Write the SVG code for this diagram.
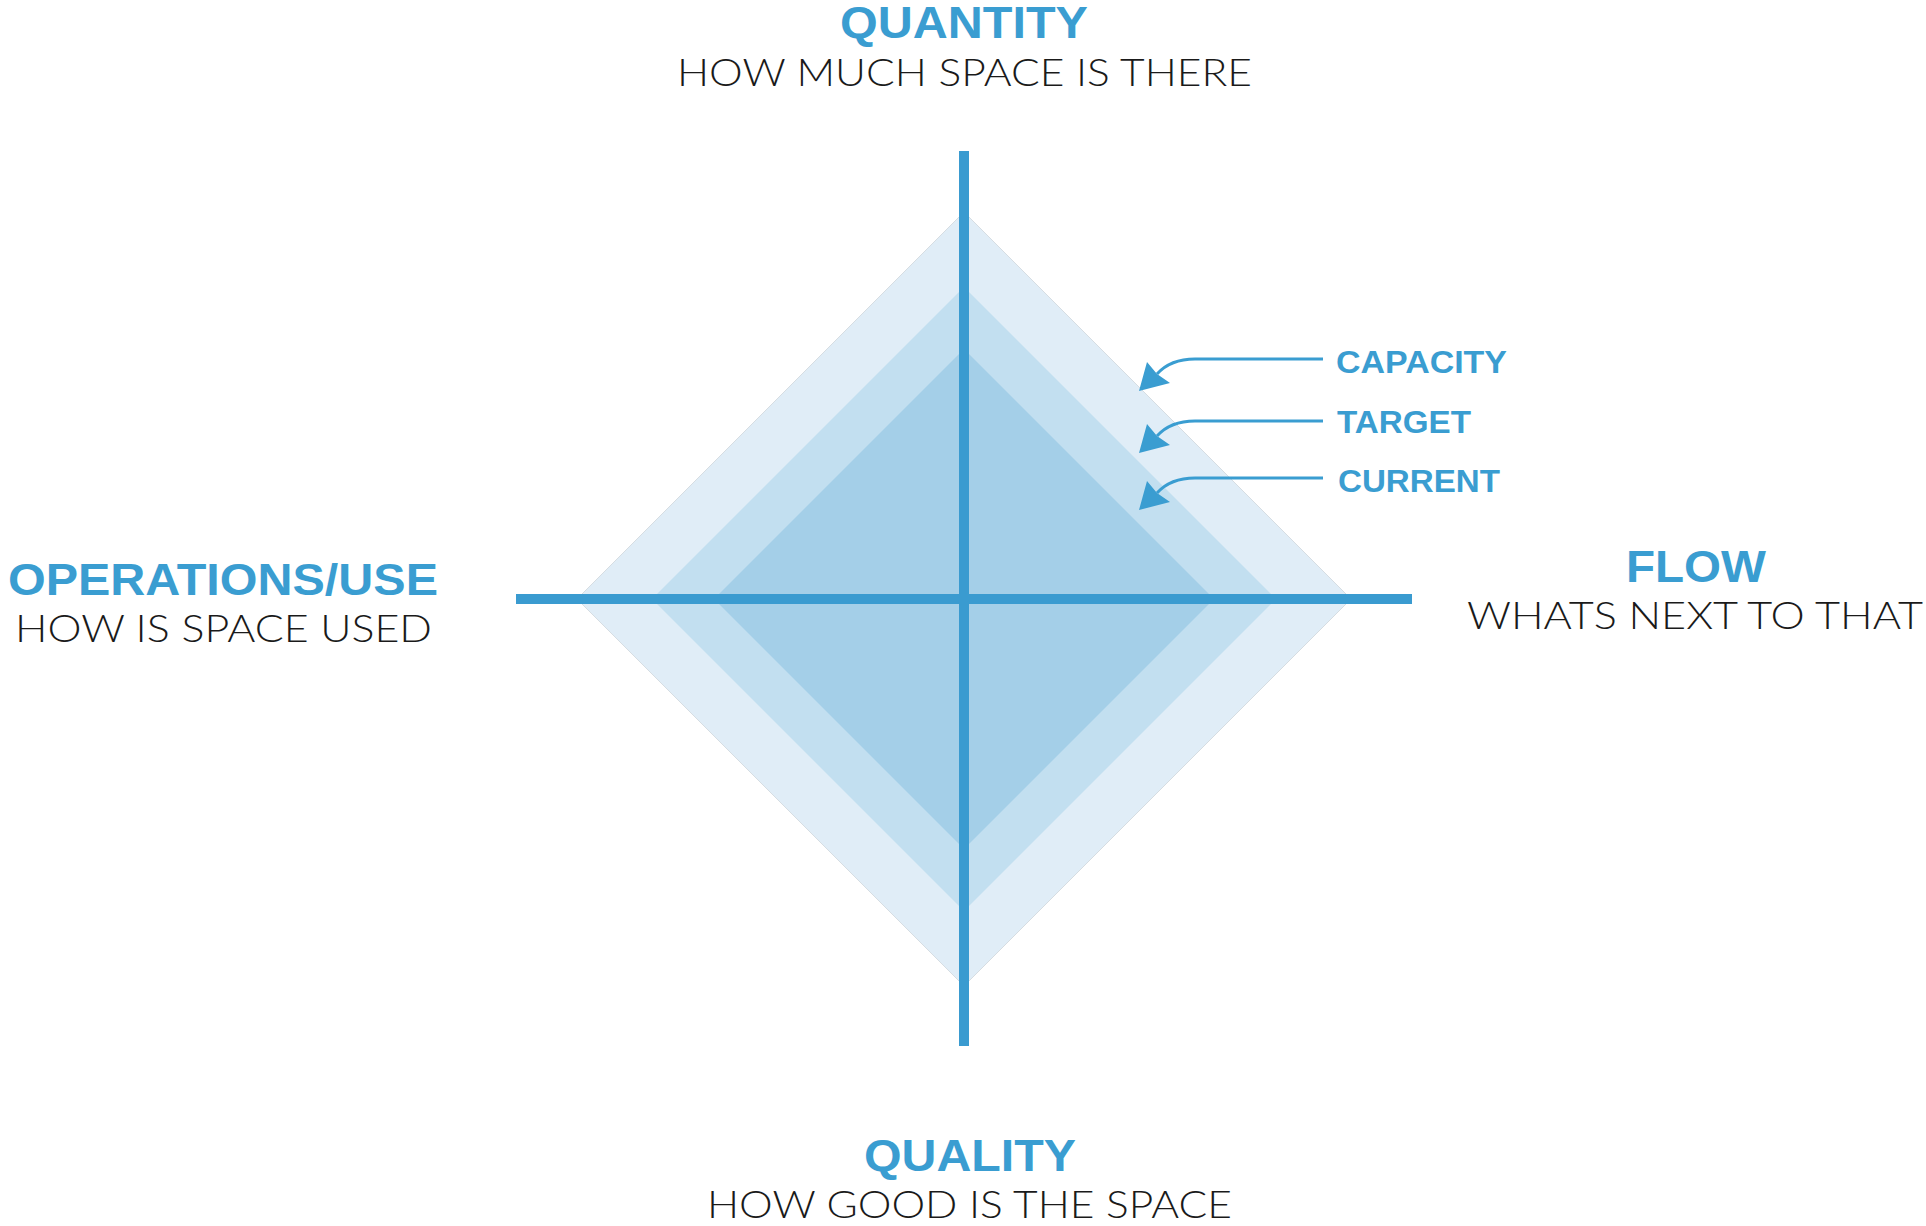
<svg xmlns="http://www.w3.org/2000/svg" width="1926" height="1226" viewBox="0 0 1926 1226">
  <style>
    .title { font-family: "Liberation Sans", Arial, sans-serif; font-weight: bold; font-size: 44px; fill: #3a9dd1; text-anchor: middle; }
    .sub { font-family: "Lato", "Open Sans", sans-serif; font-weight: 300; font-size: 37px; fill: #1a1a1a; text-anchor: middle; }
    .lbl { font-family: "Liberation Sans", Arial, sans-serif; font-weight: bold; font-size: 32px; fill: #3a9dd1; }
    .lead { fill: none; stroke: #3a9dd1; stroke-width: 3; }
    .head { fill: #3a9dd1; }
    .axis { fill: #3a9bd0; }
  </style>
  <rect width="1926" height="1226" fill="#ffffff"/>

  <g id="capacity-area">
    <path d="M964,212 L1351,599 L964,986 L577,599 Z" fill="#e0edf7" stroke="#d6dde2" stroke-width="1"/>
  </g>
  <g id="target-area">
    <path d="M964,287 L1276,599 L964,911 L652,599 Z" fill="#c2dff0"/>
  </g>
  <g id="current-area">
    <path d="M964,349 L1214,599 L964,849 L714,599 Z" fill="#a4cfe8"/>
  </g>

  <g id="axes">
    <rect class="axis" x="959" y="151" width="10" height="895"/>
    <rect class="axis" x="516" y="594" width="896" height="10"/>
  </g>

  <g id="connectors">
    <path class="lead" d="M1323,359 H1195 C1178,359 1166,364 1157,374"/>
    <polygon class="head" points="1139,391 1147,362 1157,374 1170,383"/>
    <path class="lead" d="M1323,421 H1195 C1178,421 1166,426 1157,436"/>
    <polygon class="head" points="1139,453 1147,424 1157,436 1170,445"/>
    <path class="lead" d="M1323,478 H1195 C1178,478 1166,483 1157,493"/>
    <polygon class="head" points="1139,510 1147,481 1157,493 1170,502"/>
  </g>

  <g id="label-capacity"><text class="lbl" x="1336" y="373" textLength="171" lengthAdjust="spacingAndGlyphs">CAPACITY</text></g>
  <g id="label-target"><text class="lbl" x="1337" y="433" textLength="134" lengthAdjust="spacingAndGlyphs">TARGET</text></g>
  <g id="label-current"><text class="lbl" x="1338" y="492" textLength="162" lengthAdjust="spacingAndGlyphs">CURRENT</text></g>

  <g id="quantity">
    <text class="title" x="964" y="38" textLength="248" lengthAdjust="spacingAndGlyphs">QUANTITY</text>
    <text class="sub" x="964.5" y="86" textLength="575" lengthAdjust="spacingAndGlyphs">HOW MUCH SPACE IS THERE</text>
  </g>
  <g id="operations">
    <text class="title" x="223" y="595" textLength="430" lengthAdjust="spacingAndGlyphs">OPERATIONS/USE</text>
    <text class="sub" x="223.5" y="642" textLength="417" lengthAdjust="spacingAndGlyphs">HOW IS SPACE USED</text>
  </g>
  <g id="flow">
    <text class="title" x="1696" y="582" textLength="140" lengthAdjust="spacingAndGlyphs">FLOW</text>
    <text class="sub" x="1695" y="629" textLength="456" lengthAdjust="spacingAndGlyphs">WHATS NEXT TO THAT</text>
  </g>
  <g id="quality">
    <text class="title" x="970" y="1171" textLength="212" lengthAdjust="spacingAndGlyphs">QUALITY</text>
    <text class="sub" x="969.5" y="1218" textLength="525" lengthAdjust="spacingAndGlyphs">HOW GOOD IS THE SPACE</text>
  </g>
</svg>
